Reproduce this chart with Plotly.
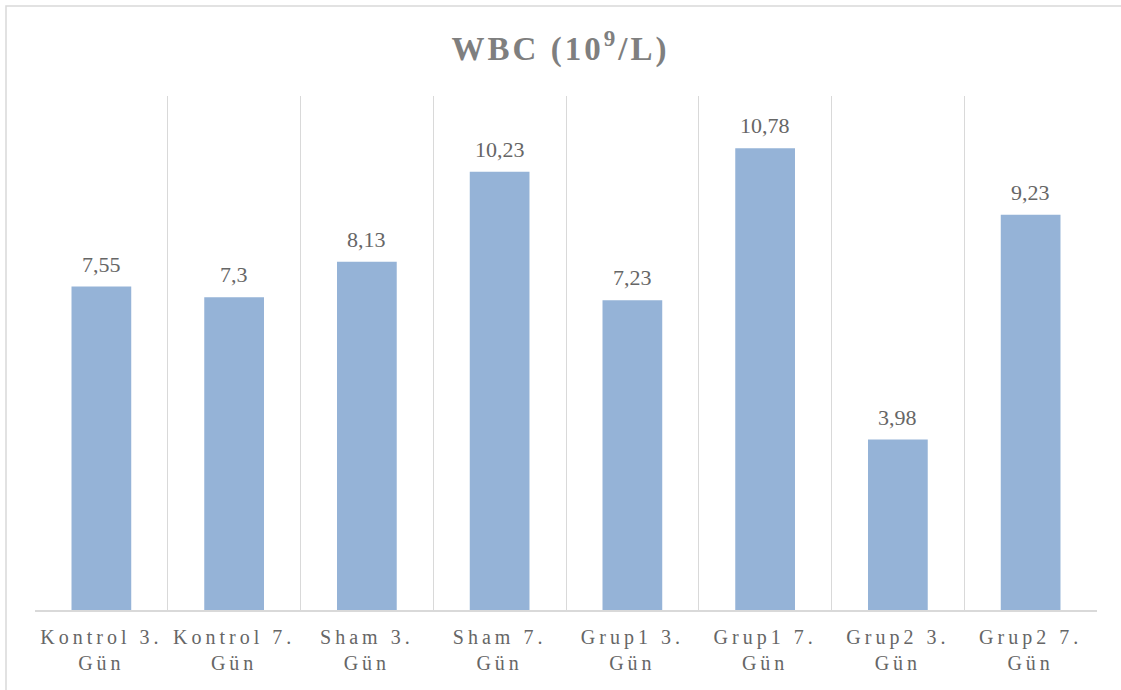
import plotly.graph_objects as go

categories = ["Kontrol 3.<br>Gün", "Kontrol 7.<br>Gün", "Sham 3.<br>Gün", "Sham 7.<br>Gün",
              "Grup1 3.<br>Gün", "Grup1 7.<br>Gün", "Grup2 3.<br>Gün", "Grup2 7.<br>Gün"]
values = [7.55, 7.3, 8.13, 10.23, 7.23, 10.78, 3.98, 9.23]
labels = ["7,55", "7,3", "8,13", "10,23", "7,23", "10,78", "3,98", "9,23"]
title_text = "WBC (10<sup>9</sup>/L)"

FONT = "Liberation Serif"

fig = go.Figure()
fig.add_trace(go.Bar(
    x=categories, y=values,
    marker=dict(color="#95B3D7", line=dict(width=0)),
    hoverinfo="x+y",
))

for c, v, t in zip(categories, values, labels):
    fig.add_annotation(x=c, y=v, text=t, showarrow=False, yanchor="bottom", yshift=8,
                       font=dict(family=FONT, size=22, color="#666666"))

W, H = 1121, 690
ml, mr, mt, mb = 35, 24, 96, 80
pw, ph = W - ml - mr, H - mt - mb

fig.update_layout(
    width=W, height=H,
    margin=dict(l=ml, r=mr, t=mt, b=mb),
    paper_bgcolor="white", plot_bgcolor="white",
    bargap=0.55,
    showlegend=False,
    title=dict(text=title_text, x=0.5, xanchor="center", y=1 - 48 / H, yanchor="middle",
               font=dict(family=FONT, size=33, color="#7F7F7F", weight="bold")),
    xaxis=dict(
        tickson="boundaries", showgrid=True, gridcolor="#D9D9D9", gridwidth=1,
        showline=True, linecolor="#D9D9D9", linewidth=1.5,
        ticks="", tickfont=dict(family=FONT, size=20, color="#666666"),
        tickangle=0, ticklabelstandoff=8,
    ),
    yaxis=dict(range=[0, 12], visible=False, showgrid=False, zeroline=False),
)

# outer chart border
fig.add_shape(type="rect", xref="paper", yref="paper",
              x0=(6 - ml) / pw, x1=(W + 10 - ml) / pw,
              y0=-(H + 10 - mt - ph) / ph, y1=1 + (mt - 6) / ph,
              line=dict(color="#D9D9D9", width=1.5), fillcolor="rgba(0,0,0,0)", layer="below")

post = """
document.body.style.margin='0';
var gd = document.getElementById('{plot_id}');
function ls(){
  gd.querySelectorAll('.xtick text').forEach(function(t){t.style.letterSpacing='4px';});
  gd.querySelectorAll('.gtitle').forEach(function(t){t.style.letterSpacing='3px';});
}
ls();
gd.on('plotly_afterplot', ls);
"""
fig.write_html("out.html", post_script=post, config={"displayModeBar": False})
